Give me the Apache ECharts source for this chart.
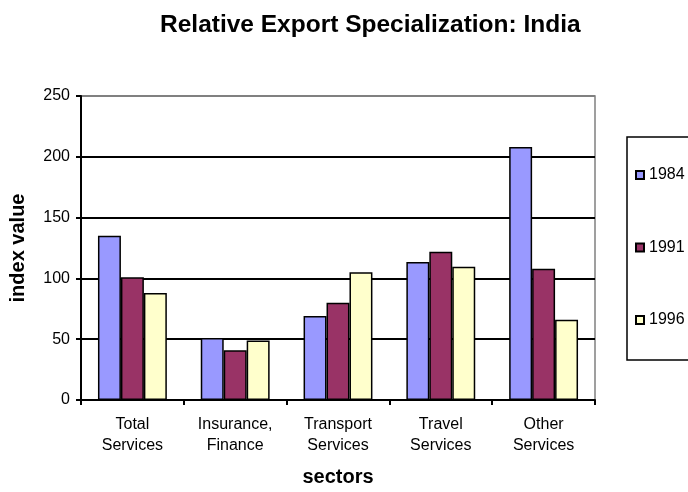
<!DOCTYPE html>
<html>
<head>
<meta charset="utf-8">
<script src="https://cdn.jsdelivr.net/npm/echarts@6/dist/echarts.min.js"></script>
<style>
  html, body { margin: 0; padding: 0; background: #fff; }
  #chart { width: 688px; height: 492px; }
</style>
</head>
<body>
<div id="chart"></div>
<script>
// Sector categories (two-line labels)
const sectors = ['Total\nServices', 'Insurance,\nFinance', 'Transport\nServices', 'Travel\nServices', 'Other\nServices'];
// Index values per year, in sector order
const years = ['1984', '1991', '1996'];
const v1984 = [135, 51, 69, 113.5, 208];
const v1991 = [101, 41, 80, 122, 108];
const v1996 = [88, 49, 105, 109.5, 66];
const yearValues = [v1984, v1991, v1996];
const yearColors = ['#9999FF', '#993366', '#FFFFCC'];

const font = '"Liberation Sans", Arial, sans-serif';
const chart = echarts.init(document.getElementById('chart'));

chart.setOption({
  animation: false,
  backgroundColor: '#ffffff',
  title: {
    text: 'Relative Export Specialization: India',
    left: 155,
    top: 8,
    textStyle: { fontFamily: font, fontSize: 24.5, fontWeight: 'bold', color: '#000' }
  },
  legend: {
    orient: 'vertical',
    left: 627,
    top: 137,
    itemWidth: 8,
    itemHeight: 8,
    itemGap: 56.5,
    icon: 'rect',
    padding: [30, 40, 32, 8],
    borderColor: '#000',
    borderWidth: 1.5,
    textStyle: { fontFamily: font, fontSize: 16, color: '#000' },
    data: years
  },
  grid: { left: 81, right: 93, top: 96, bottom: 91, show: true, borderColor: '#808080', borderWidth: 1.5 },
  xAxis: {
    type: 'category',
    data: sectors,
    name: 'sectors',
    nameLocation: 'middle',
    nameGap: 67,
    nameTextStyle: { fontFamily: font, fontSize: 20, fontWeight: 'bold', color: '#000' },
    axisLine: { lineStyle: { color: '#000', width: 2 } },
    axisTick: { show: true, length: 5, lineStyle: { color: '#000', width: 2 } },
    axisLabel: { fontFamily: font, fontSize: 16, color: '#000', margin: 14, lineHeight: 21 }
  },
  yAxis: {
    type: 'value',
    min: 0,
    max: 250,
    interval: 50,
    name: 'index value',
    nameLocation: 'middle',
    nameGap: 53,
    nameTextStyle: { fontFamily: font, fontSize: 20, fontWeight: 'bold', color: '#000' },
    axisLine: { show: true, lineStyle: { color: '#000', width: 2 } },
    axisTick: { show: true, length: 5, lineStyle: { color: '#000', width: 2 } },
    axisLabel: { fontFamily: font, fontSize: 16, color: '#000', margin: 11 },
    splitLine: { show: true, lineStyle: { color: ['#000', '#000', '#000', '#000', '#000', '#808080'], width: 2 } }
  },
  series: years.map((y, i) => ({
    name: y,
    type: 'bar',
    data: yearValues[i],
    barGap: '0%',
    barCategoryGap: '33%',
    itemStyle: { color: yearColors[i], borderColor: '#000', borderWidth: 1.5 }
  }))
});
</script>
</body>
</html>
